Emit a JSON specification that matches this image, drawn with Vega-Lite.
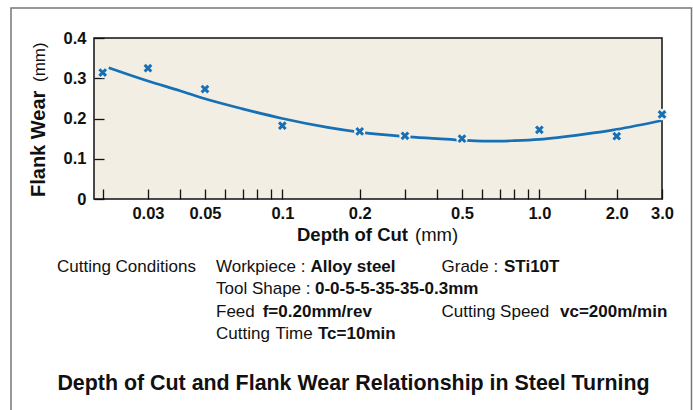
{
  "$schema": "https://vega.github.io/schema/vega-lite/v6.json",
  "width": 568,
  "height": 161,
  "autosize": {"type": "none"},
  "padding": {"left": 94, "top": 38, "right": 31, "bottom": 211},
  "background": "white",
  "config": {
    "view": {"stroke": "#111111", "strokeWidth": 1.5, "fill": "#F3EEE4"},
    "font": "Liberation Sans",
    "text": {"font": "Liberation Sans", "color": "#111111"}
  },
  "datasets": {
    "measured": [
      {"depth": 0.02, "wear": 0.314},
      {"depth": 0.03, "wear": 0.325},
      {"depth": 0.05, "wear": 0.273},
      {"depth": 0.1, "wear": 0.182},
      {"depth": 0.2, "wear": 0.168},
      {"depth": 0.3, "wear": 0.157},
      {"depth": 0.5, "wear": 0.150},
      {"depth": 1.0, "wear": 0.172},
      {"depth": 2.0, "wear": 0.156},
      {"depth": 3.0, "wear": 0.210}
    ],
    "fit": [
      {"depth": 0.0211, "wear": 0.326},
      {"depth": 0.03, "wear": 0.293},
      {"depth": 0.04, "wear": 0.269},
      {"depth": 0.05, "wear": 0.249},
      {"depth": 0.07, "wear": 0.224},
      {"depth": 0.1, "wear": 0.200},
      {"depth": 0.15, "wear": 0.178},
      {"depth": 0.2, "wear": 0.166},
      {"depth": 0.3, "wear": 0.155},
      {"depth": 0.4, "wear": 0.150},
      {"depth": 0.5, "wear": 0.146},
      {"depth": 0.6, "wear": 0.144},
      {"depth": 0.7, "wear": 0.144},
      {"depth": 0.8, "wear": 0.145},
      {"depth": 1.0, "wear": 0.148},
      {"depth": 1.5, "wear": 0.161},
      {"depth": 2.0, "wear": 0.173},
      {"depth": 3.0, "wear": 0.195}
    ]
  },
  "layer": [
    {
      "data": {"values": [{}]},
      "mark": {"type": "rect", "x": -83, "y": -30, "x2": 597.5, "y2": 380, "fill": "transparent", "stroke": "#777777", "strokeWidth": 1.5},
      "encoding": {}
    },
    {
      "encoding": {
        "x": {
          "field": "depth",
          "type": "quantitative",
          "scale": {"type": "log", "domain": [0.0185, 3.0], "nice": false},
          "axis": {
            "title": null,
            "values": [0.02, 0.03, 0.04, 0.05, 0.06, 0.07, 0.08, 0.09, 0.1, 0.2, 0.3, 0.4, 0.5, 0.6, 0.7, 0.8, 0.9, 1, 1.5, 2, 3],
            "labelExpr": "indexof([0.03,0.05,0.1,0.2,0.5], datum.value) >= 0 ? toString(datum.value) : (datum.value == 1 || datum.value == 2 || datum.value == 3) ? format(datum.value, '.1f') : ''",
            "domain": false,
            "grid": false,
            "tickSize": -10,
            "tickColor": "#111111",
            "tickWidth": 1.3,
            "labelPadding": 16,
            "labelFont": "Liberation Sans",
            "labelFontSize": 16.5,
            "labelFontWeight": "bold",
            "labelColor": "#111111",
            "labelFlush": false,
            "labelOverlap": false
          }
        },
        "y": {
          "field": "wear",
          "type": "quantitative",
          "scale": {"domain": [0, 0.4], "nice": false, "zero": true},
          "axis": {
            "title": null,
            "values": [0, 0.1, 0.2, 0.3, 0.4],
            "labelExpr": "datum.value == 0 ? '0' : format(datum.value, '.1f')",
            "domain": false,
            "grid": false,
            "tickSize": -10,
            "tickColor": "#111111",
            "tickWidth": 1.3,
            "labelPadding": 18,
            "labelFont": "Liberation Sans",
            "labelFontSize": 16.5,
            "labelFontWeight": "bold",
            "labelColor": "#111111",
            "labelFlush": false,
            "labelOverlap": false
          }
        }
      },
      "layer": [
        {
          "data": {"name": "fit"},
          "mark": {"type": "line", "interpolate": "monotone", "color": "#1570B6", "strokeWidth": 2.7}
        },
        {
          "data": {"name": "measured"},
          "mark": {"type": "point", "shape": "circle", "filled": true, "color": "#F3EEE4", "opacity": 1, "size": 130}
        },
        {
          "data": {"name": "measured"},
          "mark": {"type": "point", "shape": "M-1,-1L1,1M1,-1L-1,1", "filled": false, "color": "#1570B6", "opacity": 1, "strokeWidth": 3, "size": 44}
        }
      ]
    },
    {"data": {"values": [{}]}, "mark": {"type": "text", "text": "Flank Wear", "x": -49.5, "y": 159, "angle": 270, "align": "left", "baseline": "alphabetic", "fontSize": 20, "fontWeight": "bold"}},
    {"data": {"values": [{}]}, "mark": {"type": "text", "text": "(mm)", "x": -49.5, "y": 44, "angle": 270, "align": "left", "baseline": "alphabetic", "fontSize": 17, "fontWeight": "normal"}},
    {"data": {"values": [{}]}, "mark": {"type": "text", "text": "Depth of Cut", "x": 203, "y": 203, "align": "left", "baseline": "alphabetic", "fontSize": 18.5, "fontWeight": "bold"}},
    {"data": {"values": [{}]}, "mark": {"type": "text", "text": "(mm)", "x": 321, "y": 203, "align": "left", "baseline": "alphabetic", "fontSize": 18.5, "fontWeight": "normal"}},
    {"data": {"values": [{}]}, "mark": {"type": "text", "text": "Cutting Conditions", "x": -37, "y": 234, "align": "left", "baseline": "alphabetic", "fontSize": 17, "fontWeight": "normal"}},
    {"data": {"values": [{}]}, "mark": {"type": "text", "text": "Workpiece :", "x": 122, "y": 234, "align": "left", "baseline": "alphabetic", "fontSize": 17, "fontWeight": "normal"}},
    {"data": {"values": [{}]}, "mark": {"type": "text", "text": "Alloy steel", "x": 216.5, "y": 234, "align": "left", "baseline": "alphabetic", "fontSize": 17, "fontWeight": "bold"}},
    {"data": {"values": [{}]}, "mark": {"type": "text", "text": "Grade :", "x": 347.5, "y": 234, "align": "left", "baseline": "alphabetic", "fontSize": 17, "fontWeight": "normal"}},
    {"data": {"values": [{}]}, "mark": {"type": "text", "text": "STi10T", "x": 410, "y": 234, "align": "left", "baseline": "alphabetic", "fontSize": 17, "fontWeight": "bold"}},
    {"data": {"values": [{}]}, "mark": {"type": "text", "text": "Tool Shape :", "x": 122, "y": 256.3, "align": "left", "baseline": "alphabetic", "fontSize": 17, "fontWeight": "normal"}},
    {"data": {"values": [{}]}, "mark": {"type": "text", "text": "0-0-5-5-35-35-0.3mm", "x": 221, "y": 256.3, "align": "left", "baseline": "alphabetic", "fontSize": 17, "fontWeight": "bold"}},
    {"data": {"values": [{}]}, "mark": {"type": "text", "text": "Feed", "x": 122, "y": 278.6, "align": "left", "baseline": "alphabetic", "fontSize": 17, "fontWeight": "normal"}},
    {"data": {"values": [{}]}, "mark": {"type": "text", "text": "f=0.20mm/rev", "x": 168.7, "y": 278.6, "align": "left", "baseline": "alphabetic", "fontSize": 17, "fontWeight": "bold"}},
    {"data": {"values": [{}]}, "mark": {"type": "text", "text": "Cutting Speed", "x": 347.5, "y": 278.6, "align": "left", "baseline": "alphabetic", "fontSize": 17, "fontWeight": "normal"}},
    {"data": {"values": [{}]}, "mark": {"type": "text", "text": "vc=200m/min", "x": 466, "y": 278.6, "align": "left", "baseline": "alphabetic", "fontSize": 17, "fontWeight": "bold"}},
    {"data": {"values": [{}]}, "mark": {"type": "text", "text": "Cutting", "x": 122, "y": 301, "align": "left", "baseline": "alphabetic", "fontSize": 17, "fontWeight": "normal"}},
    {"data": {"values": [{}]}, "mark": {"type": "text", "text": "Time", "x": 181.5, "y": 301, "align": "left", "baseline": "alphabetic", "fontSize": 17, "fontWeight": "normal"}},
    {"data": {"values": [{}]}, "mark": {"type": "text", "text": "Tc=10min", "x": 224, "y": 301, "align": "left", "baseline": "alphabetic", "fontSize": 17, "fontWeight": "bold"}},
    {"data": {"values": [{}]}, "mark": {"type": "text", "text": "Depth of Cut and Flank Wear Relationship in Steel Turning", "x": 259.5, "y": 351.5, "align": "center", "baseline": "alphabetic", "fontSize": 21.4, "fontWeight": "bold"}}
  ]
}
